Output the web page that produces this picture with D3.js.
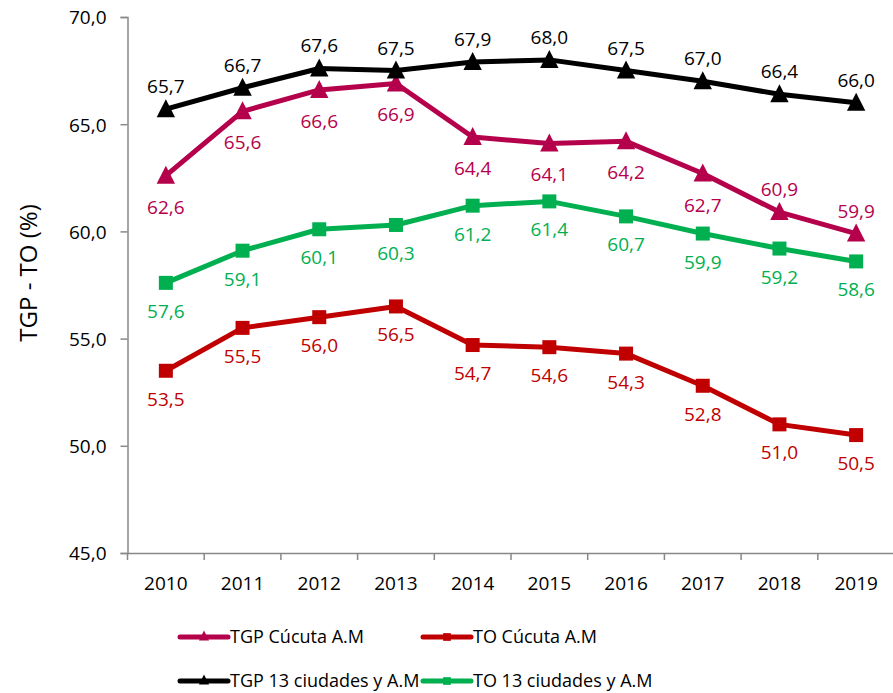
<!DOCTYPE html>
<html>
<head>
<meta charset="utf-8">
<script src="https://cdn.jsdelivr.net/npm/d3@7"></script>
<style>
  html, body { margin: 0; padding: 0; background: #fff; }
  svg { display: block; font-family: "Open Sans", "Noto Sans", sans-serif; }
</style>
</head>
<body>
<svg id="chart" width="893" height="693"></svg>
<script>
// Years on the category axis
const years = ["2010","2011","2012","2013","2014","2015","2016","2017","2018","2019"];

// Participation (TGP) and occupation (TO) rates, %
const tgpCucuta = [62.6, 65.6, 66.6, 66.9, 64.4, 64.1, 64.2, 62.7, 60.9, 59.9];
const toCucuta  = [53.5, 55.5, 56.0, 56.5, 54.7, 54.6, 54.3, 52.8, 51.0, 50.5];
const tgp13     = [65.7, 66.7, 67.6, 67.5, 67.9, 68.0, 67.5, 67.0, 66.4, 66.0];
const to13      = [57.6, 59.1, 60.1, 60.3, 61.2, 61.4, 60.7, 59.9, 59.2, 58.6];

// Label placement per point: "a" above, "b" below
const posTgpCucuta = ["b","b","b","b","b","b","b","b","a","a"];
const posToCucuta  = ["b","b","b","b","b","b","b","b","b","b"];
const posTgp13     = ["a","a","a","a","a","a","a","a","a","a"];
const posTo13      = ["b","b","b","b","b","b","b","b","b","b"];

const yTicks = [45, 50, 55, 60, 65, 70];

const series = [
  { name: "TGP Cúcuta A.M",        values: tgpCucuta, pos: posTgpCucuta, color: "#B5004B", marker: "triangle" },
  { name: "TO Cúcuta A.M",         values: toCucuta,  pos: posToCucuta,  color: "#C00000", marker: "square" },
  { name: "TGP 13 ciudades y A.M", values: tgp13,     pos: posTgp13,     color: "#000000", marker: "triangle" },
  { name: "TO 13 ciudades y A.M",  values: to13,      pos: posTo13,      color: "#00B050", marker: "square" }
];

const fmt = v => v.toFixed(1).replace(".", ",");

const svg = d3.select("#chart");
const plot = { left: 127.5, right: 894.5, top: 17, bottom: 553 };

const x = d3.scaleBand().domain(years).range([plot.left, plot.right]).padding(0);
const cx = d => x(d) + x.bandwidth() / 2;
const y = d3.scaleLinear().domain([45, 70]).range([plot.bottom, plot.top]);

const axisColor = "#888888";

// Y axis
const yAxis = svg.append("g")
  .attr("transform", `translate(${plot.left},0)`)
  .call(d3.axisLeft(y).tickValues(yTicks).tickSize(7).tickPadding(14).tickFormat(fmt));
yAxis.select(".domain").attr("stroke", axisColor).attr("stroke-width", 1.5);
yAxis.selectAll(".tick line").attr("stroke", axisColor).attr("stroke-width", 1.5);
yAxis.selectAll(".tick text").attr("fill", "#000").style("font-size", "19px")
  .style("font-family", "'Open Sans', sans-serif").attr("dy", "0.36em");

// X axis: labels at category centres, tick marks between categories
const xAxis = svg.append("g")
  .attr("transform", `translate(0,${plot.bottom})`)
  .call(d3.axisBottom(x).tickSize(0).tickPadding(24));
xAxis.select(".domain").attr("stroke", axisColor).attr("stroke-width", 1.5);
xAxis.selectAll(".tick text").attr("fill", "#000").style("font-size", "19px")
  .style("font-family", "'Open Sans', sans-serif");
svg.append("g").selectAll("line")
  .data(years)
  .join("line")
  .attr("x1", d => x(d)).attr("x2", d => x(d))
  .attr("y1", plot.bottom).attr("y2", plot.bottom + 7)
  .attr("stroke", axisColor).attr("stroke-width", 1.5);

// Y axis title
svg.append("text")
  .attr("transform", `translate(37,273) rotate(-90)`)
  .attr("text-anchor", "middle")
  .style("font-size", "24px")
  .attr("fill", "#000")
  .text("TGP - TO (%)");

function drawMarker(g, kind, color, tx, ty, scale) {
  if (kind === "triangle") {
    const s = 10 * scale;
    g.append("path")
      .attr("d", `M${tx},${ty - s} L${tx + s * 0.92},${ty + s * 0.8} L${tx - s * 0.92},${ty + s * 0.8} Z`)
      .attr("fill", color);
  } else {
    const s = 7 * scale;
    g.append("rect")
      .attr("x", tx - s).attr("y", ty - s).attr("width", 2 * s).attr("height", 2 * s)
      .attr("fill", color);
  }
}

const line = d3.line().x((d, i) => cx(years[i])).y(d => y(d));

// Draw order: TO 13, TO Cúcuta, TGP Cúcuta, TGP 13
const order = [3, 1, 0, 2];
order.forEach(k => {
  const s = series[k];
  const g = svg.append("g");
  g.append("path")
    .datum(s.values)
    .attr("d", line)
    .attr("fill", "none")
    .attr("stroke", s.color)
    .attr("stroke-width", 5)
    .attr("stroke-linejoin", "round");
  s.values.forEach((v, i) => drawMarker(g, s.marker, s.color, cx(years[i]), y(v), 1));
  g.selectAll("text.lbl")
    .data(s.values)
    .join("text")
    .attr("class", "lbl")
    .attr("x", (d, i) => cx(years[i]))
    .attr("y", (d, i) => s.pos[i] === "a" ? y(d) - 16 : y(d) + (s.marker === "triangle" ? 38 : 35))
    .attr("text-anchor", "middle")
    .attr("fill", s.color)
    .style("font-size", "19px")
    .text(fmt);
});

// Legend
const legendItems = [
  { s: series[0], lx: 180, ly: 637 },
  { s: series[1], lx: 423, ly: 637 },
  { s: series[2], lx: 180, ly: 681 },
  { s: series[3], lx: 423, ly: 681 }
];
const leg = svg.append("g");
legendItems.forEach(it => {
  leg.append("line")
    .attr("x1", it.lx).attr("x2", it.lx + 48)
    .attr("y1", it.ly).attr("y2", it.ly)
    .attr("stroke", it.s.color).attr("stroke-width", 5).attr("stroke-linecap", "round");
  drawMarker(leg, it.s.marker, it.s.color, it.lx + 24, it.ly - (it.s.marker === "triangle" ? 1 : 0), 0.55);
  leg.append("text")
    .attr("x", it.lx + 50).attr("y", it.ly)
    .attr("dy", "0.35em")
    .attr("fill", "#000")
    .style("font-size", "18px")
    .text(it.s.name);
});
</script>
</body>
</html>
